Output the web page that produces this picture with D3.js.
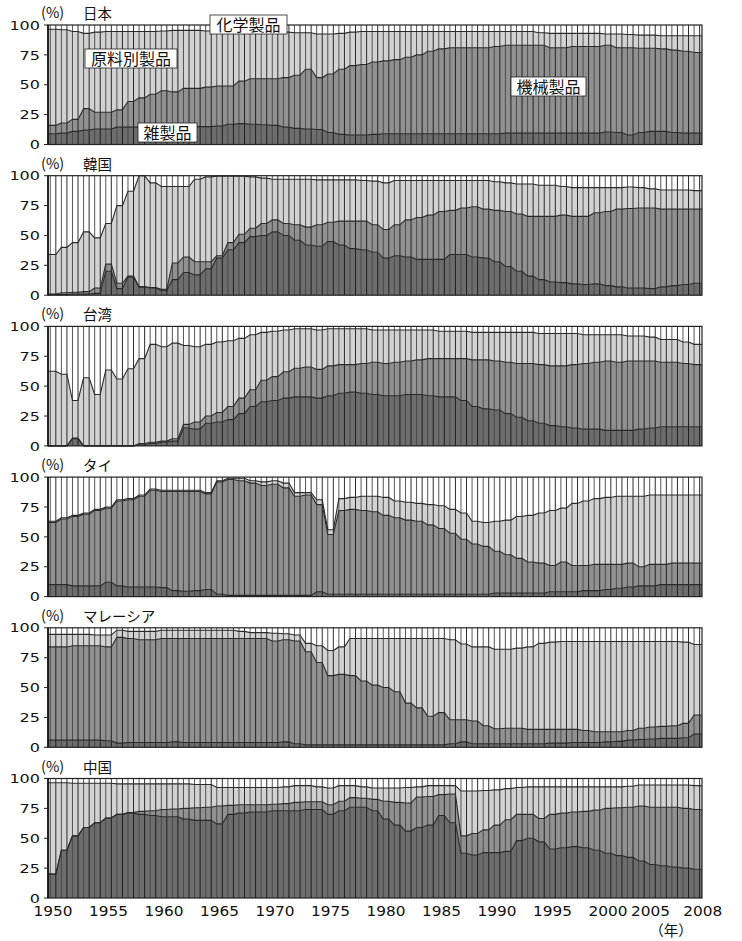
<!DOCTYPE html>
<html lang="ja">
<head>
<meta charset="UTF-8">
<title>輸出品構成の推移</title>
<script src="https://d3js.org/d3.v7.min.js"></script>
<style>
  body { margin: 0; background: #fff; }
  svg text { font-family: "DejaVu Sans", "Liberation Sans", sans-serif; fill: #111; }
  svg text.jp { font-family: "Noto Sans CJK JP", sans-serif; }
</style>
</head>
<body>
<svg id="chart" width="742" height="941"></svg>
<script>
// years 1950-2008, one value per year
const years = d3.range(1950, 2009);
const yTicks = [0, 25, 50, 75, 100];
const xTickYears = [1950, 1955, 1960, 1965, 1970, 1975, 1980, 1985, 1990, 1995, 2000, 2005, 2008];

// cumulative tops of each band (%): dark = 雑製品, mid = +機械製品, light = +原料別製品
const jpDark = [
  9, 9.5, 11, 12, 13, 13, 14.5, 14.5, 14.5, 14.5,
  15, 15, 15, 15, 15, 15.5, 17, 17.5, 17, 16.5,
  16, 14.5, 13.5, 13, 12.5, 10, 8.5, 8, 8, 8.5,
  9, 9, 9, 9, 9, 9, 9, 9, 9, 9,
  9, 9.5, 9.5, 9.5, 9.5, 9.5, 9.5, 9.5, 9.5, 9.5,
  10.5, 10, 8, 10, 11, 11, 10, 9.5, 9.5];
const jpMid = [
  16, 18, 21, 30, 27, 27, 29, 36, 39, 42,
  45, 44, 47, 47, 48, 49, 49, 53, 55, 55,
  55, 56, 58, 63, 56, 59, 63, 66, 67, 69,
  70, 71, 73, 75, 78, 80, 81, 81, 81, 81,
  82, 83, 83, 83, 83, 81, 81, 82, 82, 82,
  83, 81, 81, 80.5, 80.5, 80, 79, 78, 77];
const jpLight = [
  96.5, 96, 94.5, 93, 94, 94.5, 94.5, 94.5, 94.5, 94.5,
  95, 95.5, 95.5, 95.5, 95, 94.5, 94, 94, 94, 94,
  94, 94, 93.5, 93.5, 92.5, 92.5, 93, 94, 94.5, 94.5,
  94.5, 94.5, 94.5, 94.5, 94.5, 94.5, 94.5, 94.5, 94.5, 94.5,
  94.5, 94.5, 94.5, 94.5, 93.5, 93, 93, 93, 93, 93,
  92.5, 92.5, 92, 91.5, 91.5, 91, 91, 91, 91];

const krDark = [
  0.5, 0.5, 1, 1, 1.5, 20, 5.5, 15, 7, 6,
  4, 13, 19, 17, 22, 31, 38, 44, 49, 50,
  53, 50, 46, 42, 41, 45, 42, 39, 38, 36,
  31, 33, 32, 30, 30, 30, 34, 34, 32, 31,
  28, 24, 20, 16, 13, 11, 10.5, 9.5, 9, 9.5,
  8, 7, 6, 6, 5.5, 7, 8, 9, 10];
const krMid = [
  1, 2, 2.5, 3, 6, 26, 10, 16, 7, 6.5,
  5, 27, 32, 28, 28, 33, 44, 51, 56, 60,
  63, 60, 59, 57, 59, 61, 62, 62, 62, 59,
  55, 59, 63, 65, 67, 70, 71, 73, 74, 72,
  71, 70, 68, 66, 66, 66, 67, 66, 66, 69,
  70, 72, 72.5, 73, 73, 72, 72, 72, 72];
const krLight = [
  34, 40, 44, 53, 48, 60, 75, 87, 100, 94,
  91, 91, 91, 97, 99, 99.5, 99.5, 99.5, 99, 98,
  97, 97, 97, 97, 96.5, 96.5, 96.5, 96.5, 96, 95.5,
  94, 96, 96, 96, 96, 96, 96, 96, 96, 96,
  95, 94, 93, 93, 92, 92, 91, 90, 90, 90,
  90, 90, 90.5, 90, 89, 88, 88, 88, 87.5];

const twDark = [
  0, 0, 6, 0, 0, 0, 0, 0, 1, 2,
  3, 4, 15, 14, 19, 20, 22, 27, 33, 37,
  38, 40, 41, 41, 40, 42, 44, 45, 44, 43,
  42, 42, 43, 43, 42, 41, 41, 38, 33, 31,
  30, 27, 24, 21, 19, 17, 16, 15, 14, 14,
  13, 13, 13, 14, 15, 16, 16, 16, 16];
const twMid = [
  0, 0, 6.5, 0, 0, 0, 0, 0, 2, 3,
  4, 6, 18, 20, 25, 28, 33, 40, 47, 55,
  58, 62, 65, 66, 64, 67, 68, 68, 69, 70,
  69, 70, 71, 72, 73, 73, 73, 73, 72, 72,
  71, 70, 69, 69, 68, 67, 67, 68, 69, 70,
  71, 70, 71, 71, 71, 70, 70, 69, 68];
const twLight = [
  62.5, 60, 38, 57, 43, 63.5, 56, 64.5, 73, 85,
  83, 86, 84, 83, 85, 87, 88, 90, 93, 95,
  96, 97, 98, 98, 97, 98, 98, 98, 98, 97,
  97, 97, 97, 97, 97, 96, 96, 96, 95, 95,
  95, 95, 95, 95, 94, 94, 94, 94, 93, 93,
  93, 93, 92, 92, 91, 89, 89, 87, 85];

const thDark = [
  10, 10, 9, 9, 9, 12, 9, 8, 8, 8,
  7.5, 5, 4.5, 5, 6, 2, 1, 1, 1, 1,
  1, 1, 1, 1, 4, 2, 2, 2, 2, 2,
  2, 2, 2, 2, 2, 2, 2, 2, 2, 2,
  3, 3, 3, 3, 3, 4, 4, 4, 5, 5,
  6, 7, 8, 9, 9, 10, 10, 10, 10];
const thMid = [
  62, 65, 67, 69, 72, 74, 80, 81, 84, 89,
  88, 88, 88, 88, 86, 96, 98, 97, 95, 93,
  94, 91, 84, 85, 77, 52, 72, 73, 72, 71,
  68, 66, 64, 63, 60, 57, 53, 48, 44, 42,
  38, 35, 32, 29, 28, 26, 29, 26, 26, 27,
  27, 27, 28, 25, 27, 27, 28, 28, 28];
const thLight = [
  63, 66, 68, 70, 73, 75, 81, 82, 85, 90,
  89, 89, 89, 89, 87, 97, 99, 99, 97, 96,
  97, 95, 87, 87, 81, 56, 82, 83, 84, 84,
  83, 80, 79, 78, 77, 76, 73, 70, 63, 62,
  63, 64, 67, 68, 70, 72, 74, 78, 80, 82,
  83, 84, 84, 84, 85, 85, 85, 85, 85];

const myDark = [
  6, 6, 6, 6, 6, 5.5, 3.5, 4, 4, 4,
  4, 4.5, 4, 4, 4, 4, 4, 4, 4, 4,
  4, 4.5, 3, 2, 2, 2, 2, 2, 2, 2,
  2, 2, 2, 2, 2, 2, 3, 4.5, 3, 3,
  3, 3, 3, 3, 3, 3.5, 3.5, 4, 4, 4,
  4.5, 5, 6, 6.5, 7, 7.5, 7.5, 8, 11];
const myMid = [
  84, 84, 85, 85, 85, 84, 92, 91, 90, 90,
  91, 91, 91, 91, 91, 91, 91, 91, 91, 91,
  89, 90, 89, 80, 71, 60, 61, 60, 55.5, 52,
  50, 46.5, 37, 33, 26, 29, 23, 23, 22, 18,
  15.5, 16, 16, 15, 15, 15, 15, 15, 14, 13,
  13, 13, 14, 16, 17, 17.5, 18, 20, 27];
const myLight = [
  94.5, 94.5, 94.5, 94.5, 94, 94, 98, 97, 97, 97,
  98, 98, 98, 98, 98, 98, 98, 97, 96, 96,
  95.5, 95, 94, 87, 85, 81, 84, 91, 91, 91,
  91, 91, 91, 91, 91, 91, 90, 86.5, 84, 84,
  82, 82, 83, 84, 87, 88, 88.5, 88.5, 88.5, 88.5,
  88.5, 88.5, 88.5, 88.5, 88.5, 88.5, 88.5, 88, 86];

const cnDark = [
  20, 40, 52, 59, 63, 67, 70, 71, 70, 69,
  68, 68, 66, 65, 65, 62, 70, 71, 72, 72,
  73, 73, 73, 74, 74, 70, 73, 76, 76, 73,
  66, 61, 56, 59, 61, 69, 63, 37.5, 36, 38,
  38, 39, 48, 50, 47, 41, 42, 43, 42, 40,
  37.5, 35.5, 34, 31, 28, 27, 26, 25, 24];
const cnMid = [
  20, 40, 52, 59, 63, 67, 70, 71.5, 72.5, 73,
  74, 74.5, 75, 75.5, 76, 77, 77.5, 78, 78, 78,
  78.5, 79, 80, 80.5, 80.5, 78, 81, 84, 83.5, 82.5,
  81, 80, 79.5, 84.5, 85, 86.5, 87, 52, 54, 57,
  61, 65.5, 70, 70, 66.5, 70, 71, 72, 72.5, 73.5,
  75, 75.5, 76, 77, 76, 76, 76, 75, 74];
const cnLight = [
  96.5, 96.5, 96, 96, 96, 96, 95.5, 95.5, 95.5, 95.5,
  95.5, 95.5, 95.5, 95, 95, 92.5, 92.5, 92.5, 92.5, 92.5,
  92.5, 93, 94, 94, 93, 92, 94, 94, 93, 92,
  92, 92, 92.5, 93, 94, 94, 94, 89.5, 89.5, 90,
  90.5, 91.5, 92.5, 93, 93, 93, 93, 93, 93, 93,
  93, 93, 93.5, 94.5, 94.5, 94.5, 94.5, 94.5, 94];

const panels = [
  { name: "日本", layers: [jpDark, jpMid, jpLight] },
  { name: "韓国", layers: [krDark, krMid, krLight] },
  { name: "台湾", layers: [twDark, twMid, twLight] },
  { name: "タイ", layers: [thDark, thMid, thLight] },
  { name: "マレーシア", layers: [myDark, myMid, myLight] },
  { name: "中国", layers: [cnDark, cnMid, cnLight] }
];
const fills = ["#6d6d6d", "#919191", "#d2d2d2"];

const svg = d3.select("#chart");
const left = 48, right = 702;
const firstTop = 25, panelStep = 150.7, panelH = 119.5;

const x = d3.scaleBand()
    .domain(years)
    .range([47.5, 702.4])
    .paddingInner(0.5)
    .paddingOuter(0.25);
const bw = x.bandwidth();

// each year is a flat step across its bar, joined by slopes in the gaps
const pts = [];
years.forEach((yr, i) => {
  let x0 = x(yr), x1 = x(yr) + bw;
  if (i === 0) x0 = left;
  if (i === years.length - 1) x1 = right;
  pts.push({ x: x0, i: i });
  pts.push({ x: x1, i: i });
});

panels.forEach((p, k) => {
  const top = firstTop + k * panelStep;
  const y = d3.scaleLinear().domain([0, 100]).range([top + panelH, top]);
  const g = svg.append("g");

  // filled bands
  p.layers.forEach((vals, j) => {
    const below = j === 0 ? null : p.layers[j - 1];
    const area = d3.area()
        .x(d => d.x)
        .y0(d => y(below ? below[d.i] : 0))
        .y1(d => y(vals[d.i]));
    g.append("path").datum(pts)
        .attr("d", area)
        .attr("fill", fills[j]);
  });

  // vertical bar edge lines
  const edges = g.append("g");
  years.forEach(yr => {
    edges.append("line")
        .attr("x1", x(yr)).attr("x2", x(yr))
        .attr("y1", y(0)).attr("y2", y(100))
        .attr("stroke", "#444").attr("stroke-width", 0.9);
    edges.append("line")
        .attr("x1", x(yr) + bw).attr("x2", x(yr) + bw)
        .attr("y1", y(0)).attr("y2", y(100))
        .attr("stroke", "#151515").attr("stroke-width", 0.9);
  });

  // band boundary lines
  p.layers.forEach(vals => {
    const line = d3.line().x(d => d.x).y(d => y(vals[d.i]));
    g.append("path").datum(pts)
        .attr("d", line)
        .attr("fill", "none")
        .attr("stroke", "#2a2a2a")
        .attr("stroke-width", 1.1);
  });

  // frame
  g.append("rect")
      .attr("x", left).attr("y", y(100))
      .attr("width", right - left).attr("height", y(0) - y(100))
      .attr("fill", "none").attr("stroke", "#222").attr("stroke-width", 1.2);
  g.append("line")
      .attr("x1", left).attr("x2", left)
      .attr("y1", y(0)).attr("y2", y(100))
      .attr("stroke", "#111").attr("stroke-width", 1.6);

  // y axis ticks and labels
  yTicks.forEach(t => {
    g.append("line")
        .attr("x1", left - 4).attr("x2", left)
        .attr("y1", y(t)).attr("y2", y(t))
        .attr("stroke", "#222");
    const s = String(t);
    g.append("text")
        .attr("x", 40).attr("y", y(t))
        .attr("dy", "0.36em")
        .attr("text-anchor", "end")
        .attr("font-size", 13)
        .attr("textLength", 10.2 * s.length)
        .attr("lengthAdjust", "spacingAndGlyphs")
        .text(s);
  });

  // panel title
  g.append("text").attr("class", "jp")
      .attr("x", 41).attr("y", top - 7)
      .attr("font-size", 14.5)
      .text("(%)");
  g.append("text").attr("class", "jp")
      .attr("x", 83).attr("y", top - 6)
      .attr("font-size", 14.5)
      .text(p.name);
});

// x axis labels under the last panel
const xOffset = { 2005: -13, 2008: 6 };
xTickYears.forEach(yr => {
  svg.append("text")
      .attr("x", x(yr) + bw / 2 + (xOffset[yr] || 0))
      .attr("y", 916)
      .attr("text-anchor", "middle")
      .attr("font-size", 13.5)
      .attr("textLength", 39)
      .attr("lengthAdjust", "spacingAndGlyphs")
      .text(yr);
});
svg.append("text").attr("class", "jp")
    .attr("x", 671).attr("y", 936)
    .attr("text-anchor", "middle")
    .attr("font-size", 14.5)
    .text("（年）");

// category labels in the first panel
const boxLabels = [
  { text: "化学製品", x: 210, y: 15, w: 77 },
  { text: "原料別製品", x: 85, y: 49, w: 92 },
  { text: "雑製品", x: 138, y: 123, w: 59 },
  { text: "機械製品", x: 511, y: 77, w: 75 }
];
boxLabels.forEach(b => {
  svg.append("rect")
      .attr("x", b.x).attr("y", b.y)
      .attr("width", b.w).attr("height", 19)
      .attr("fill", "#fff").attr("stroke", "#222").attr("stroke-width", 0.8);
  svg.append("text").attr("class", "jp")
      .attr("x", b.x + b.w / 2).attr("y", b.y + 15.5)
      .attr("text-anchor", "middle")
      .attr("font-size", 16)
      .text(b.text);
});
</script>
</body>
</html>
